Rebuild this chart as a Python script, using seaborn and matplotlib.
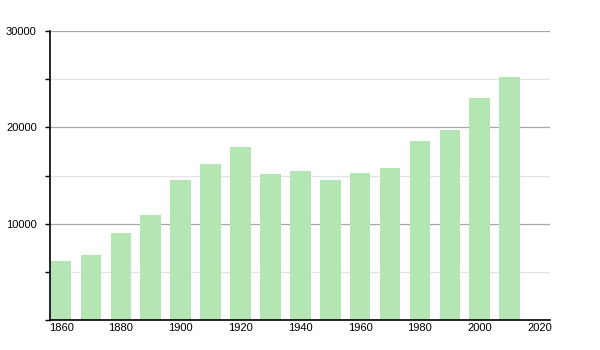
import matplotlib
matplotlib.use("Agg")
import matplotlib.pyplot as plt
import seaborn as sns
import pandas as pd
from matplotlib.ticker import MultipleLocator

years = [1860, 1870, 1880, 1890, 1900, 1910, 1920, 1930, 1940, 1950, 1960, 1970, 1980, 1990, 2000, 2010]
population = [6130, 6750, 9030, 10870, 14540, 16200, 17960, 15160, 15470, 14540, 15260, 15810, 18590, 19730, 23050, 25230]
xticks = [1860, 1880, 1900, 1920, 1940, 1960, 1980, 2000, 2020]
yticks = [10000, 20000, 30000]

sns.set_style("white")
plt.rcParams['font.family'] = ['Liberation Sans', 'DejaVu Sans']

df = pd.DataFrame({"year": years, "pop": population})

fig = plt.figure(figsize=(6, 3.5), dpi=100)
ax = fig.add_axes([50/600, 30/350, 500/600, 289/350])

sns.barplot(data=df, x="year", y="pop", native_scale=True, width=0.69,
            color="#b3e6b3", saturation=1, edgecolor="none", ax=ax, zorder=2)

ax.set_xlim(1856.3, 2023.5)
ax.set_ylim(0, 30000)
ax.set_xticks(xticks)
ax.set_xticklabels([str(t) for t in xticks])
ax.set_yticks(yticks)
ax.set_yticklabels([str(t) for t in yticks])
ax.yaxis.set_minor_locator(MultipleLocator(5000))

ax.grid(False)
ax.grid(axis="y", which="major", color="#a8a8a8", linewidth=0.9, zorder=0)
ax.grid(axis="y", which="minor", color="#e4e4e4", linewidth=0.9, zorder=0)
ax.set_axisbelow(True)

for s in ["top", "right"]:
    ax.spines[s].set_visible(False)
for s in ["left", "bottom"]:
    ax.spines[s].set_color("black")
    ax.spines[s].set_linewidth(1.2)

ax.tick_params(axis="y", which="both", direction="out", length=3.5, width=1, color="black",
               left=True, labelsize=8, pad=6, labelcolor="black")
ax.tick_params(axis="x", which="both", length=0, labelsize=8, pad=2, labelcolor="black")
ax.set_xlabel("")
ax.set_ylabel("")

fig.savefig("out.png", dpi=100)
